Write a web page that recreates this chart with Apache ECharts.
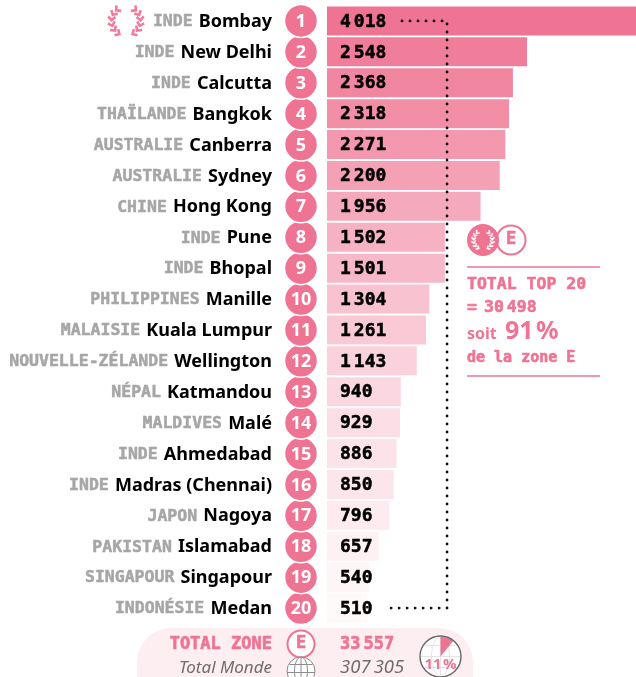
<!DOCTYPE html>
<html><head><meta charset="utf-8">
<style>html,body{margin:0;padding:0;background:#fff}#c{width:636px;height:677px}</style>
<script src="https://cdn.jsdelivr.net/npm/echarts@6/dist/echarts.min.js"></script>
</head><body><div id="c"></div>
<script>
const cities=['Bombay','New Delhi','Calcutta','Bangkok','Canberra','Sydney','Hong Kong','Pune','Bhopal','Manille','Kuala Lumpur','Wellington','Katmandou','Malé','Ahmedabad','Madras (Chennai)','Nagoya','Islamabad','Singapour','Medan'];
const countries=['INDE','INDE','INDE','THAÏLANDE','AUSTRALIE','AUSTRALIE','CHINE','INDE','INDE','PHILIPPINES','MALAISIE','NOUVELLE-ZÉLANDE','NÉPAL','MALDIVES','INDE','INDE','JAPON','PAKISTAN','SINGAPOUR','INDONÉSIE'];
const values=[4018,2548,2368,2318,2271,2200,1956,1502,1501,1304,1261,1143,940,929,886,850,796,657,540,510];
const barColors=['#ef7493','#f07e9a','#f186a1','#f28fa7','#f398ae','#f4a1b6','#f5a9bc','#f6b2c3','#f7b9c9','#f8c2d0','#f9c9d6','#fad1dc','#fbd8e1','#fbdee6','#fce3e9','#fce6ec','#fdebf0','#fef1f4','#fef5f7','#fff9fa'];
const totalZone=33557, totalWorld=307305, totalTop=30498, shareTop='91\u200a%', shareWorld='11\u200a%';
const bracket=[[955,'Bombay'],[1529,'Bombay'],[1529,'Medan'],[764,'Medan']];

const PINK='#ef7493', GREY='#a6a6a6', MONO='DejaVu Sans Mono', SANS='Noto Sans';
const fmt=n=>{const s=String(n);return s.length>3?'{t|'+s.slice(0,-3)+'}{h|'+s.slice(-3)+'}':'{t|'+s+'}'};
const numRich=(size,color,bw)=>{const b={fontFamily:MONO,fontWeight:'bold',fontSize:size,color,textBorderColor:color,textBorderWidth:bw};
  return {t:{...b},h:{...b,padding:[0,0,0,3]}}};
const numRichG=(size,color,bw)=>{const b={fontFamily:MONO,fontWeight:'bold',fontSize:size,fill:color,stroke:color,lineWidth:bw};
  return {t:{...b},h:{...b,padding:[0,0,0,3]}}};

function laurel(cx,cy,r,color,s,z){
  const out=[];
  for(const side of [-1,1]){
    for(let i=0;i<6;i++){
      const a=(30+i*22)*Math.PI/180;
      out.push({type:'polyline',z,x:cx+side*r*Math.sin(a),y:cy+r*Math.cos(a),
        rotation:side<0?(Math.PI/2-a):(a-Math.PI/2),
        shape:{points:[[-3.6*s,-2.8*s],[0,0.8*s],[3.6*s,-2.8*s]]},
        style:{stroke:color,lineWidth:2.6*s,fill:null}});
    }
  }
  return out;
}
const txt=(x,y,text,size,weight,family,fill,align,z,italic,bw)=>({type:'text',z:z||10,x,y,style:{text,fontSize:size,fontWeight:weight,fontFamily:family,fontStyle:italic?'italic':'normal',fill,stroke:bw?fill:null,lineWidth:bw||0,textAlign:align||'left',textVerticalAlign:'middle'}});
const num=(x,y,n,size,fill)=>({type:'text',z:10,x,y,style:{text:fmt(n),rich:numRichG(size,fill,0.6),fill,textAlign:'left',textVerticalAlign:'middle'}});

const gl='#8c8c8c';
const globe=[
 {type:'circle',z:10,shape:{cx:301,cy:671,r:14},style:{fill:'#fff',stroke:gl,lineWidth:1}},
 {type:'ellipse',z:10,shape:{cx:301,cy:671,rx:6.5,ry:14},style:{fill:null,stroke:gl,lineWidth:1}},
 {type:'line',z:10,shape:{x1:301,y1:657,x2:301,y2:685},style:{stroke:gl,lineWidth:1}},
 {type:'line',z:10,shape:{x1:289.5,y1:664.5,x2:312.5,y2:664.5},style:{stroke:gl,lineWidth:1}},
 {type:'line',z:10,shape:{x1:287,y1:672.5,x2:315,y2:672.5},style:{stroke:gl,lineWidth:1}}
];
const fl='#e4e4e4', PX=440.5, PY=656.5;
const pieGlobe=[
 {type:'circle',z:1,shape:{cx:PX,cy:PY,r:20},style:{fill:'#fff'}},
 {type:'ellipse',z:1,shape:{cx:PX,cy:PY,rx:9,ry:20},style:{fill:null,stroke:fl,lineWidth:1}},
 {type:'line',z:1,shape:{x1:PX,y1:PY-20,x2:PX,y2:PY+20},style:{stroke:fl,lineWidth:1}},
 {type:'line',z:1,shape:{x1:PX-20,y1:PY,x2:PX+20,y2:PY},style:{stroke:fl,lineWidth:1}},
 {type:'line',z:1,shape:{x1:PX-16,y1:PY-11,x2:PX+16,y2:PY-11},style:{stroke:fl,lineWidth:1}},
 {type:'line',z:1,shape:{x1:PX-16,y1:PY+11,x2:PX+16,y2:PY+11},style:{stroke:fl,lineWidth:1}}
];

const option={
 animation:false,
 textStyle:{fontFamily:SANS},
 grid:[
  {left:327,top:5.5,width:309,height:618},
  {left:285,top:5.5,width:32,height:618}
 ],
 xAxis:[
  {gridIndex:0,type:'value',min:0,max:3936,show:false},
  {gridIndex:1,type:'value',min:0,max:1,show:false}
 ],
 yAxis:[
  {gridIndex:0,type:'category',inverse:true,data:cities,axisLine:{show:false},axisTick:{show:false},
   axisLabel:{margin:55,align:'right',interval:0,
    formatter:(v,i)=>'{c|'+countries[i]+'} {n|'+v+'}',
    rich:{c:{fontFamily:MONO,fontWeight:'bold',fontSize:16.5,color:GREY,textBorderColor:GREY,textBorderWidth:0.5,padding:[2,3,0,0]},n:{fontFamily:SANS,fontWeight:'bold',fontSize:18,color:'#000',padding:[2,0,0,0]}}}},
  {gridIndex:1,type:'category',inverse:true,data:cities,show:false}
 ],
 series:[
  {type:'bar',xAxisIndex:0,yAxisIndex:0,barWidth:29,clip:true,
   data:values.map((v,i)=>({value:v,itemStyle:{color:barColors[i]}})),
   label:{show:true,position:'insideLeft',distance:13,offset:[0,1],formatter:p=>fmt(p.value),rich:numRich(18,'#000',0.5)},z:2},
  {type:'line',xAxisIndex:0,yAxisIndex:0,data:bracket,symbol:'none',silent:true,z:4,
   lineStyle:{color:'#111',width:2.8,type:[0.1,7.9],cap:'round'}},
  {type:'scatter',xAxisIndex:1,yAxisIndex:1,symbol:'circle',symbolSize:33,z:5,
   data:cities.map((c,i)=>[0.5,c,i+1]).reverse(),
   itemStyle:{color:PINK,borderColor:'#fff',borderWidth:1.5,opacity:1},
   label:{show:true,position:'inside',offset:[0,1],formatter:p=>String(p.value[2]),color:'#fff',fontFamily:SANS,fontWeight:'bold',fontSize:18}},
  {type:'pie',center:[PX,PY],radius:[0,20],startAngle:90,silent:true,z:6,
   label:{show:false},labelLine:{show:false},
   data:[{value:totalZone,itemStyle:{color:PINK}},{value:totalWorld-totalZone,itemStyle:{color:'rgba(255,255,255,0)'}}]}
 ],
 graphic:[
  {type:'rect',z:0,shape:{x:137,y:628,width:336,height:90,r:34},style:{fill:'#fdeef2'}},
  ...laurel(126,21,14.5,'#f4799a',1,10),
  {type:'circle',z:10,shape:{cx:511,cy:240,r:14.5},style:{fill:'#fff',stroke:PINK,lineWidth:2}},
  txt(511,240,'E',17,'bold',MONO,PINK,'center',11,false,0.6),
  {type:'circle',z:11,shape:{cx:483,cy:240,r:16},style:{fill:PINK}},
  ...laurel(483,240,9.5,'#fff',0.62,12),
  {type:'line',z:10,shape:{x1:467,y1:267,x2:600,y2:267},style:{stroke:PINK,lineWidth:1.5}},
  {type:'line',z:10,shape:{x1:467,y1:376,x2:600,y2:376},style:{stroke:PINK,lineWidth:1.5}},
  txt(467,285,'TOTAL TOP 20',16.5,'bold',MONO,PINK,'left',10,false,0.6),
  txt(467,308,'=',16.5,'bold',MONO,PINK,'left',10,false,0.6),
  num(484,308,totalTop,16.5,PINK),
  txt(467,334,'soit',16,'bold',SANS,PINK),
  txt(505,332,shareTop,25,'bold',SANS,PINK),
  txt(467,358,'de la zone E',15,'bold',MONO,PINK,'left',10,false,0.6),
  txt(272,645,'TOTAL ZONE',17,'bold',MONO,PINK,'right',10,false,0.6),
  {type:'circle',z:10,shape:{cx:301,cy:644,r:13.5},style:{fill:'#fff',stroke:PINK,lineWidth:2}},
  txt(301,644,'E',17,'bold',MONO,PINK,'center',11,false,0.6),
  ...globe,
  num(340,645,totalZone,17,PINK),
  txt(272,668,'Total Monde',17,'normal',SANS,'#6e6e6e','right',10,true),
  txt(340,668,'307\u2009305',18.5,'normal',SANS,'#6e6e6e','left',10,true),
  ...pieGlobe,
  {type:'circle',z:20,shape:{cx:PX,cy:PY,r:20.5},style:{fill:null,stroke:'#666',lineWidth:1.4}},
  txt(PX,665,shareWorld,15,'bold',SANS,PINK,'center',21)
 ]
};
echarts.init(document.getElementById('c'),null,{renderer:'canvas'}).setOption(option);
</script></body></html>
